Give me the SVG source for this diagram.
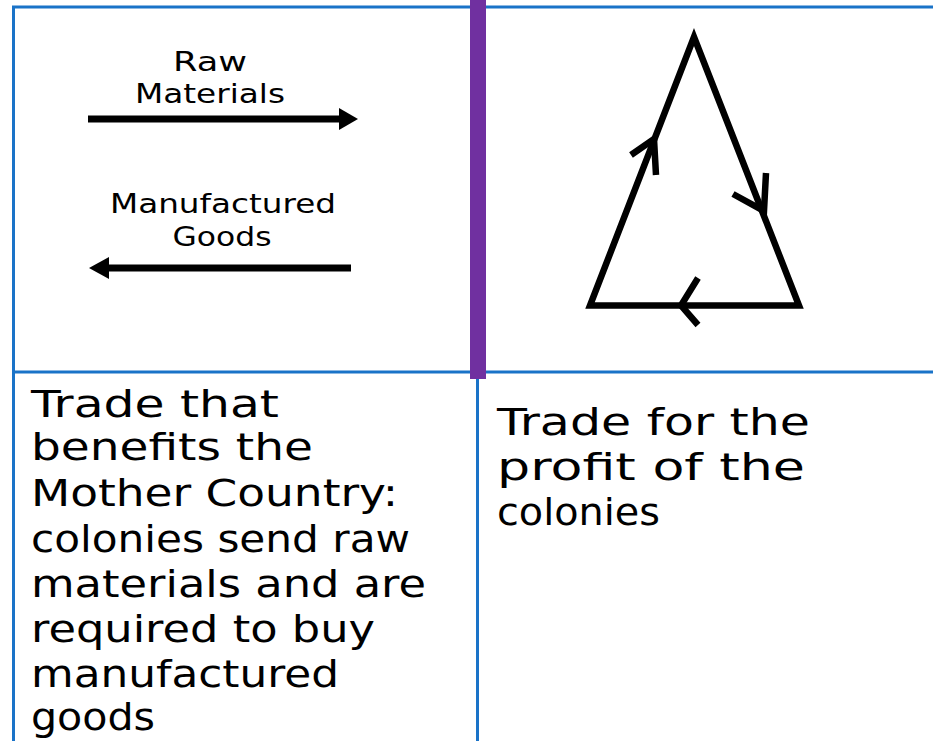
<svg xmlns="http://www.w3.org/2000/svg" width="933" height="741" viewBox="0 0 933 741">
<style>
.grid{stroke:#1a73c8;stroke-width:3;fill:none}
.lbl{font-family:"DejaVu Sans","Liberation Sans",sans-serif;font-size:27px;fill:#000;text-anchor:middle}
.big{font-family:"DejaVu Sans","Liberation Sans",sans-serif;font-size:38px;fill:#000}
.ln{stroke:#000;stroke-width:7;fill:none}
.tri{stroke:#000;stroke-width:6.5;fill:none;stroke-linejoin:miter;stroke-miterlimit:10}
</style>
<rect width="933" height="741" fill="#fff"/>
<g id="grid">
<line class="grid" x1="12" y1="7" x2="933" y2="7"/>
<line class="grid" x1="13.5" y1="6" x2="13.5" y2="741"/>
<line class="grid" x1="12" y1="372" x2="933" y2="372"/>
<line class="grid" x1="477.5" y1="372" x2="477.5" y2="741"/>
<rect x="470" y="0" width="16" height="379" fill="#7030a0"/>
</g>
<g id="trade-arrows">
<g id="raw-materials">
<text class="lbl" x="210" y="71" textLength="74" lengthAdjust="spacingAndGlyphs">Raw</text>
<text class="lbl" x="210" y="103" textLength="150" lengthAdjust="spacingAndGlyphs">Materials</text>
</g>
<g id="manufactured-goods">
<text class="lbl" x="223" y="213" textLength="226" lengthAdjust="spacingAndGlyphs">Manufactured</text>
<text class="lbl" x="222" y="246" textLength="99" lengthAdjust="spacingAndGlyphs">Goods</text>
</g>
<g id="connectors">
<line class="ln" x1="88" y1="119" x2="342" y2="119"/>
<polygon points="339,108 358,119 339,130"/>
<line class="ln" x1="106" y1="268" x2="351" y2="268"/>
<polygon points="109,257 89,268 109,279"/>
</g>
</g>
<g id="triangle">
<polygon class="tri" points="694,37 590,305.5 799,305.5"/>
<polyline class="tri" points="631,155 654,139 656,175"/>
<polyline class="tri" points="733,194 764,211 766,173"/>
<polyline class="tri" points="698,278 681,305.5 698,325"/>
</g>
<g id="mercantilism-text">
<text class="big" x="31" y="417" textLength="248" lengthAdjust="spacingAndGlyphs">Trade that</text>
<text class="big" x="31" y="460" textLength="282" lengthAdjust="spacingAndGlyphs">benefits the</text>
<text class="big" x="31" y="506" textLength="367" lengthAdjust="spacingAndGlyphs">Mother Country:</text>
<text class="big" x="31" y="552" textLength="379" lengthAdjust="spacingAndGlyphs">colonies send raw</text>
<text class="big" x="31" y="597" textLength="395" lengthAdjust="spacingAndGlyphs">materials and are</text>
<text class="big" x="31" y="642" textLength="344" lengthAdjust="spacingAndGlyphs">required to buy</text>
<text class="big" x="31" y="687" textLength="308" lengthAdjust="spacingAndGlyphs">manufactured</text>
<text class="big" x="31" y="730" textLength="124" lengthAdjust="spacingAndGlyphs">goods</text>
</g>
<g id="free-trade-text">
<text class="big" x="497" y="435" textLength="313" lengthAdjust="spacingAndGlyphs">Trade for the</text>
<text class="big" x="497" y="480" textLength="308" lengthAdjust="spacingAndGlyphs">profit of the</text>
<text class="big" x="497" y="525" textLength="163" lengthAdjust="spacingAndGlyphs">colonies</text>
</g>
</svg>
